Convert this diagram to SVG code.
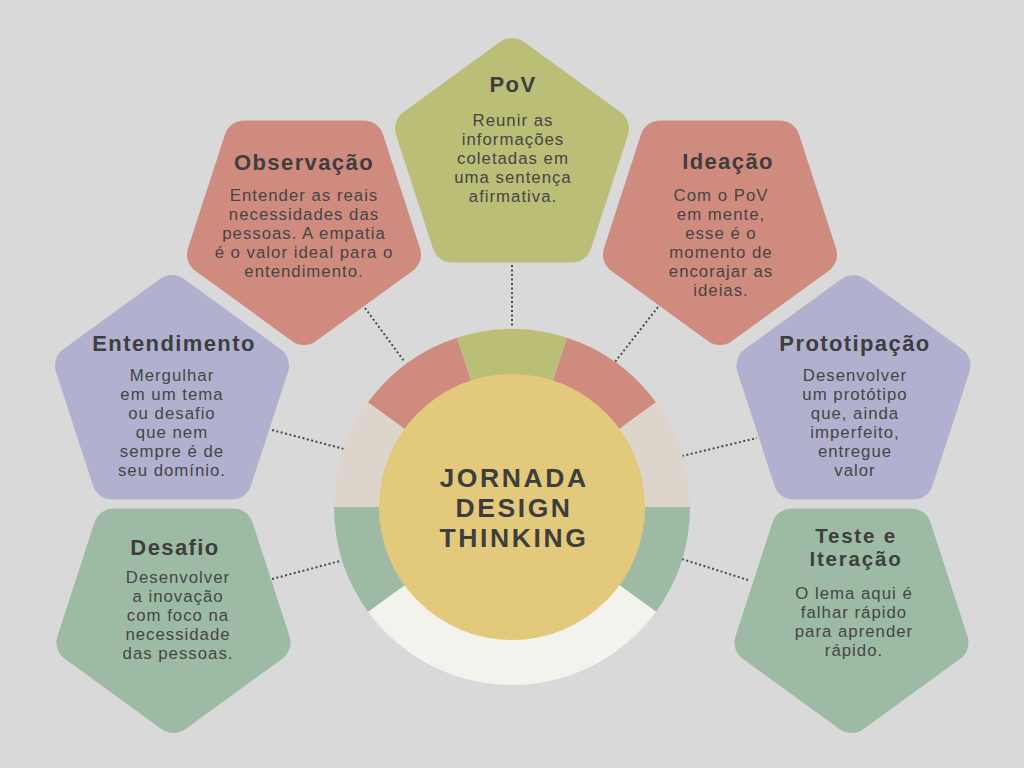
<svg xmlns="http://www.w3.org/2000/svg" xmlns:xlink="http://www.w3.org/1999/xlink" width="1024" height="768" viewBox="0 0 1024 768">
<style>
.bg{fill:#d9d9d9}
.pen{stroke-width:40;stroke-linejoin:round}
.red{fill:#d08b7f;stroke:#d08b7f}
.olive{fill:#bbbe77;stroke:#bbbe77}
.lav{fill:#b1b1cf;stroke:#b1b1cf}
.grn{fill:#9dbba4;stroke:#9dbba4}
.t{font-family:"Liberation Sans",Arial,sans-serif;font-weight:700;font-size:22px;fill:#3e3e3e;text-anchor:middle;letter-spacing:1.4px}
.t2{font-size:20.5px;letter-spacing:1.8px}
.b{font-family:"Liberation Sans",Arial,sans-serif;font-size:16.8px;fill:#454545;text-anchor:middle;letter-spacing:1px}
.c{font-family:"Liberation Sans",Arial,sans-serif;font-weight:700;font-size:26.5px;fill:#3e3e3e;text-anchor:middle;letter-spacing:2.6px}
.con{stroke:#4a4a4a;stroke-width:2;stroke-dasharray:2 2.5;fill:none}
</style>
<defs>
<polygon id="up" points="0,-102 97.01,-31.52 59.95,82.52 -59.95,82.52 -97.01,-31.52"/>
<polygon id="dn" points="0,102 97.01,31.52 59.95,-82.52 -59.95,-82.52 -97.01,31.52"/>
</defs>
<rect class="bg" x="0" y="0" width="1024" height="768"/>

<g id="connectors">
<line class="con" x1="512" y1="265" x2="512" y2="328"/>
<line class="con" x1="365" y1="308" x2="404" y2="361"/>
<line class="con" x1="658" y1="307" x2="615" y2="362"/>
<line class="con" x1="272" y1="430" x2="344" y2="449"/>
<line class="con" x1="682" y1="456" x2="757" y2="438"/>
<line class="con" x1="272" y1="579" x2="340" y2="561"/>
<line class="con" x1="682" y1="559" x2="748" y2="580"/>
</g>

<g id="center">
<path fill="#bbbe77" d="M512,507 L457,337.71 A178,178 0 0 1 567,337.71 Z"/>
<path fill="#d08b7f" d="M512,507 L567,337.71 A178,178 0 0 1 656,402.37 Z"/>
<path fill="#ddd5cc" d="M512,507 L656,402.37 A178,178 0 0 1 690,507 Z"/>
<path fill="#9dbba4" d="M512,507 L690,507 A178,178 0 0 1 656,611.63 Z"/>
<path fill="#f2f3ec" d="M512,507 L656,611.63 A178,178 0 0 1 368,611.63 Z"/>
<path fill="#9dbba4" d="M512,507 L368,611.63 A178,178 0 0 1 334,507 Z"/>
<path fill="#ddd5cc" d="M512,507 L334,507 A178,178 0 0 1 368,402.37 Z"/>
<path fill="#d08b7f" d="M512,507 L368,402.37 A178,178 0 0 1 457,337.71 Z"/>
<circle cx="512" cy="507" r="133" fill="#e3c97b"/>
<text class="c"><tspan x="514" y="487">JORNADA</tspan><tspan x="514" y="517">DESIGN</tspan><tspan x="514" y="547">THINKING</tspan></text>
</g>

<g id="pov">
<use xlink:href="#up" class="pen olive" transform="translate(512,160)"/>
<text class="t" x="513" y="92">PoV</text>
<text class="b"><tspan x="513" y="126">Reunir as</tspan><tspan x="513" y="145">informações</tspan><tspan x="513" y="164">coletadas em</tspan><tspan x="513" y="183">uma sentença</tspan><tspan x="513" y="202">afirmativa.</tspan></text>
</g>

<g id="observacao">
<use xlink:href="#dn" class="pen red" transform="translate(304,223)"/>
<text class="t" x="304" y="170">Observação</text>
<text class="b"><tspan x="304" y="201">Entender as reais</tspan><tspan x="304" y="220">necessidades das</tspan><tspan x="304" y="239">pessoas. A empatia</tspan><tspan x="304" y="258">é o valor ideal para o</tspan><tspan x="304" y="277">entendimento.</tspan></text>
</g>

<g id="ideacao">
<use xlink:href="#dn" class="pen red" transform="translate(720,223)"/>
<text class="t" x="728" y="169">Ideação</text>
<text class="b"><tspan x="721" y="201">Com o PoV</tspan><tspan x="721" y="220">em mente,</tspan><tspan x="721" y="239">esse é o</tspan><tspan x="721" y="258">momento de</tspan><tspan x="721" y="277">encorajar as</tspan><tspan x="721" y="296">ideias.</tspan></text>
</g>

<g id="entendimento">
<use xlink:href="#up" class="pen lav" transform="translate(172,397)"/>
<text class="t" x="174" y="351">Entendimento</text>
<text class="b"><tspan x="172" y="381">Mergulhar</tspan><tspan x="172" y="400">em um tema</tspan><tspan x="172" y="419">ou desafio</tspan><tspan x="172" y="438">que nem</tspan><tspan x="172" y="457">sempre é de</tspan><tspan x="172" y="476">seu domínio.</tspan></text>
</g>

<g id="prototipacao">
<use xlink:href="#up" class="pen lav" transform="translate(853.5,397)"/>
<text class="t" x="855" y="351">Prototipação</text>
<text class="b"><tspan x="855" y="381">Desenvolver</tspan><tspan x="855" y="400">um protótipo</tspan><tspan x="855" y="419">que, ainda</tspan><tspan x="855" y="438">imperfeito,</tspan><tspan x="855" y="457">entregue</tspan><tspan x="855" y="476">valor</tspan></text>
</g>

<g id="desafio">
<use xlink:href="#dn" class="pen grn" transform="translate(173.5,611)"/>
<text class="t" x="175" y="555">Desafio</text>
<text class="b"><tspan x="178" y="583">Desenvolver</tspan><tspan x="178" y="602">a inovação</tspan><tspan x="178" y="621">com foco na</tspan><tspan x="178" y="640">necessidade</tspan><tspan x="178" y="659">das pessoas.</tspan></text>
</g>

<g id="teste">
<use xlink:href="#dn" class="pen grn" transform="translate(851.5,611)"/>
<text class="t t2"><tspan x="856" y="542.5">Teste e</tspan><tspan x="856" y="565.5">Iteração</tspan></text>
<text class="b"><tspan x="854" y="599">O lema aqui é</tspan><tspan x="854" y="618">falhar rápido</tspan><tspan x="854" y="637">para aprender</tspan><tspan x="854" y="656">rápido.</tspan></text>
</g>
</svg>
